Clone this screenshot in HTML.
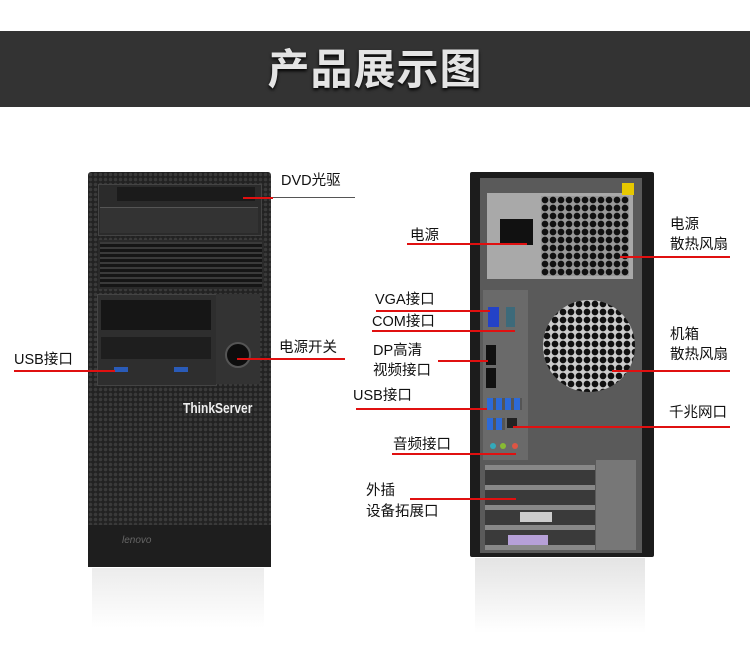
<!DOCTYPE html>
<html><head><meta charset="utf-8"><style>
body{margin:0;width:750px;height:651px;background:#fff;position:relative;overflow:hidden;font-family:"Liberation Sans","Noto Sans CJK SC",sans-serif}
.a{position:absolute}
.t{position:absolute;font-size:14.5px;color:#111;line-height:20px;white-space:nowrap}
.l{position:absolute;height:1.5px;background:#e01010}
.mesh{background-color:#1a1a1a;background-image:radial-gradient(circle,#3a3a3a 1.6px,transparent 2px);background-size:5px 5px}
.hex{background-color:#555;background-image:radial-gradient(circle,#111 3px,transparent 3.6px);background-size:8px 8px}
</style></head><body>
<div class="a" style="left:0;top:31px;width:750px;height:76px;background:#333"></div>
<div class="a" style="left:0;top:44px;width:750px;text-align:center;font-size:42px;font-weight:bold;line-height:52px;color:#e4e4e4;letter-spacing:1px;text-shadow:0 2px 3px #000">产品展示图</div>

<!-- front tower -->
<div class="a" style="left:92px;top:568px;width:172px;height:60px;background:linear-gradient(#ececec,#fff)"></div>
<div class="a mesh" style="left:88px;top:172px;width:183px;height:395px;border-radius:3px;background-color:#222"></div>
<div class="a" style="left:98px;top:184px;width:162px;height:50px;background:#2b2b2b;border:1px solid #444"></div>
<div class="a" style="left:117px;top:187px;width:138px;height:14px;background:#1b1b1b"></div>
<div class="a" style="left:100px;top:207px;width:158px;height:25px;background:#333;border-top:1px solid #555"></div>
<div class="a" style="left:98px;top:240px;width:162px;height:45px;background:repeating-linear-gradient(#3a3a3a 0 2px,#151515 2px 5px);border:2px solid #2a2a2a"></div>
<div class="a" style="left:97px;top:294px;width:118px;height:90px;background:#2e2e2e;border:1px solid #444"></div>
<div class="a" style="left:101px;top:300px;width:110px;height:30px;background:#161616"></div>
<div class="a" style="left:101px;top:337px;width:110px;height:22px;background:#1e1e1e"></div>
<div class="a" style="left:114px;top:367px;width:14px;height:5px;background:#2a5bb8"></div>
<div class="a" style="left:174px;top:367px;width:14px;height:5px;background:#2a5bb8"></div>
<div class="a" style="left:216px;top:294px;width:44px;height:90px;background:#333"></div>
<div class="a" style="left:225px;top:342px;width:22px;height:22px;border-radius:50%;background:#0d0d0d;border:2px solid #555"></div>
<div class="a" style="left:183px;top:400px;color:#eee;font-size:15px;font-weight:bold;font-family:'Liberation Sans Narrow','Liberation Sans',sans-serif;transform:scaleX(.8);transform-origin:left">ThinkServer</div>
<div class="a" style="left:88px;top:525px;width:183px;height:42px;background:#1e1e1e"></div>
<div class="a" style="left:122px;top:535px;color:#666;font-size:10px;font-style:italic">lenovo</div>

<!-- back tower -->
<div class="a" style="left:475px;top:558px;width:170px;height:75px;background:linear-gradient(#e4e4e4,#fff)"></div>
<div class="a" style="left:470px;top:172px;width:184px;height:385px;background:#1c1c1c;border-radius:2px"></div>
<div class="a" style="left:480px;top:178px;width:162px;height:375px;background:#5a5a5a"></div>
<div class="a" style="left:487px;top:193px;width:146px;height:86px;background:#a9a9a9"></div>
<div class="a" style="left:500px;top:219px;width:33px;height:26px;background:#111"></div>
<div class="a hex" style="left:541px;top:196px;width:88px;height:80px;background-color:#999"></div>
<div class="a" style="left:622px;top:183px;width:12px;height:12px;background:#e6c800"></div>
<div class="a hex" style="left:543px;top:300px;width:92px;height:92px;border-radius:50%;background-color:#ccc"></div>
<div class="a" style="left:483px;top:290px;width:45px;height:170px;background:#6a6a6a"></div>
<div class="a" style="left:488px;top:307px;width:11px;height:20px;background:#2342c8"></div>
<div class="a" style="left:506px;top:307px;width:9px;height:20px;background:#3d6a7a"></div>
<div class="a" style="left:486px;top:345px;width:10px;height:20px;background:#111"></div>
<div class="a" style="left:486px;top:368px;width:10px;height:20px;background:#111"></div>
<div class="a" style="left:487px;top:398px;width:35px;height:12px;background:repeating-linear-gradient(90deg,#2d6ad8 0 6px,#555 6px 9px)"></div>
<div class="a" style="left:487px;top:418px;width:18px;height:12px;background:repeating-linear-gradient(90deg,#2d6ad8 0 6px,#555 6px 9px)"></div>
<div class="a" style="left:507px;top:418px;width:10px;height:10px;background:#222"></div>
<div class="a" style="left:490px;top:443px;width:6px;height:6px;border-radius:50%;background:#3ab"></div>
<div class="a" style="left:500px;top:443px;width:6px;height:6px;border-radius:50%;background:#8b3"></div>
<div class="a" style="left:512px;top:443px;width:6px;height:6px;border-radius:50%;background:#d54"></div>
<div class="a" style="left:485px;top:465px;width:110px;height:85px;background:repeating-linear-gradient(#888 0 5px,#3a3a3a 5px 20px)"></div>
<div class="a" style="left:596px;top:460px;width:40px;height:90px;background:#777"></div>
<div class="a" style="left:520px;top:512px;width:32px;height:10px;background:#ccc"></div>
<div class="a" style="left:508px;top:535px;width:40px;height:10px;background:#b6a0d8"></div>

<!-- labels -->
<div class="t" style="left:281px;top:171px">DVD光驱</div>
<div class="a" style="left:272px;top:197px;width:83px;height:1px;background:#555"></div>
<div class="l" style="left:243px;top:197px;width:30px"></div>
<div class="t" style="left:279px;top:338px">电源开关</div>
<div class="l" style="left:237px;top:358px;width:108px"></div>
<div class="t" style="left:14px;top:350px">USB接口</div>
<div class="l" style="left:14px;top:370px;width:101px"></div>

<div class="t" style="left:410px;top:226px">电源</div>
<div class="l" style="left:407px;top:243px;width:120px"></div>
<div class="t" style="left:670px;top:215px">电源</div>
<div class="t" style="left:670px;top:235px">散热风扇</div>
<div class="l" style="left:620px;top:256px;width:110px"></div>
<div class="t" style="left:375px;top:290px">VGA接口</div>
<div class="l" style="left:376px;top:310px;width:114px"></div>
<div class="t" style="left:372px;top:312px">COM接口</div>
<div class="l" style="left:372px;top:330px;width:143px"></div>
<div class="t" style="left:373px;top:341px">DP高清</div>
<div class="t" style="left:373px;top:361px">视频接口</div>
<div class="l" style="left:438px;top:360px;width:50px"></div>
<div class="t" style="left:670px;top:325px">机箱</div>
<div class="t" style="left:670px;top:345px">散热风扇</div>
<div class="l" style="left:612px;top:370px;width:118px"></div>
<div class="t" style="left:353px;top:386px">USB接口</div>
<div class="l" style="left:356px;top:408px;width:131px"></div>
<div class="t" style="left:669px;top:403px">千兆网口</div>
<div class="l" style="left:513px;top:426px;width:217px"></div>
<div class="t" style="left:393px;top:435px">音频接口</div>
<div class="l" style="left:392px;top:453px;width:124px"></div>
<div class="t" style="left:366px;top:481px">外插</div>
<div class="t" style="left:366px;top:502px">设备拓展口</div>
<div class="l" style="left:410px;top:498px;width:106px"></div>
</body></html>
